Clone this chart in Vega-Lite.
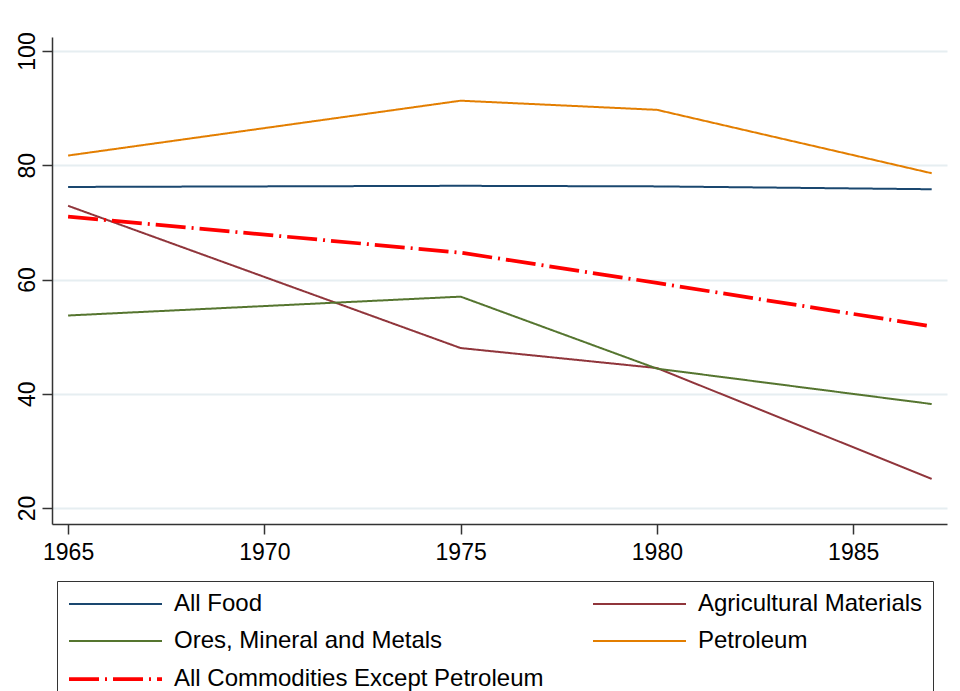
{
  "$schema": "https://vega.github.io/schema/vega-lite/v6.json",
  "autosize": "none",
  "width": 895,
  "height": 487,
  "padding": {"left": 52, "top": 37, "right": 13, "bottom": 167},
  "background": "white",
  "config": {
    "view": {"stroke": null},
    "font": "Liberation Sans"
  },
  "data": {
    "values": [
      {"year": 1965, "series": "All Food", "value": 76.2},
      {"year": 1975, "series": "All Food", "value": 76.4},
      {"year": 1980, "series": "All Food", "value": 76.3},
      {"year": 1987, "series": "All Food", "value": 75.8},
      {"year": 1965, "series": "Agricultural Materials", "value": 72.9},
      {"year": 1975, "series": "Agricultural Materials", "value": 48.0},
      {"year": 1980, "series": "Agricultural Materials", "value": 44.5},
      {"year": 1987, "series": "Agricultural Materials", "value": 25.1},
      {"year": 1965, "series": "Ores, Mineral and Metals", "value": 53.7},
      {"year": 1975, "series": "Ores, Mineral and Metals", "value": 57.0},
      {"year": 1980, "series": "Ores, Mineral and Metals", "value": 44.4},
      {"year": 1987, "series": "Ores, Mineral and Metals", "value": 38.2},
      {"year": 1965, "series": "Petroleum", "value": 81.7},
      {"year": 1975, "series": "Petroleum", "value": 91.3},
      {"year": 1980, "series": "Petroleum", "value": 89.7},
      {"year": 1987, "series": "Petroleum", "value": 78.6},
      {"year": 1965, "series": "All Commodities Except Petroleum", "value": 71.0},
      {"year": 1975, "series": "All Commodities Except Petroleum", "value": 64.7},
      {"year": 1980, "series": "All Commodities Except Petroleum", "value": 59.4},
      {"year": 1987, "series": "All Commodities Except Petroleum", "value": 51.8}
    ]
  },
  "mark": {"type": "line", "strokeCap": "butt", "strokeJoin": "miter"},
  "encoding": {
    "x": {
      "field": "year",
      "type": "quantitative",
      "scale": {"domain": [1964.59, 1987.39], "nice": false, "zero": false},
      "axis": {
        "title": null,
        "values": [1965, 1970, 1975, 1980, 1985],
        "format": "d",
        "grid": false,
        "domainColor": "#333333",
        "domainWidth": 1.5,
        "tickColor": "#333333",
        "tickWidth": 1.5,
        "tickSize": 10,
        "labelFontSize": 23,
        "labelColor": "#000000",
        "labelPadding": 7,
        "labelFont": "Liberation Sans"
      }
    },
    "y": {
      "field": "value",
      "type": "quantitative",
      "scale": {"domain": [17.2, 102.45], "nice": false, "zero": false},
      "axis": {
        "title": null,
        "values": [20, 40, 60, 80, 100],
        "grid": true,
        "gridColor": "#e6eef1",
        "gridWidth": 2,
        "domainColor": "#333333",
        "domainWidth": 1.5,
        "tickColor": "#333333",
        "tickWidth": 1.5,
        "tickSize": 10,
        "labelFontSize": 23,
        "labelColor": "#000000",
        "labelAngle": -90,
        "labelAlign": "center",
        "labelBaseline": "bottom",
        "labelPadding": 3,
        "labelFont": "Liberation Sans"
      }
    },
    "color": {
      "field": "series",
      "type": "nominal",
      "scale": {
        "domain": ["All Food", "Agricultural Materials", "Ores, Mineral and Metals", "Petroleum", "All Commodities Except Petroleum"],
        "range": ["#1a476f", "#90353b", "#55752f", "#e37e00", "#ff0000"]
      },
      "legend": {
        "title": null,
        "orient": "none",
        "legendX": 5,
        "legendY": 544,
        "columns": 2,
        "direction": "horizontal",
        "columnPadding": 45,
        "rowPadding": 12,
        "padding": 10,
        "strokeColor": "#333333",
        "fillColor": "#ffffff",
        "symbolType": "M-1,0H6.75",
        "symbolSize": 576,
        "labelFontSize": 24,
        "labelFont": "Liberation Sans",
        "labelColor": "#000000",
        "labelOffset": 79,
        "labelLimit": 600
      }
    },
    "strokeDash": {
      "field": "series",
      "type": "nominal",
      "scale": {
        "domain": ["All Food", "Agricultural Materials", "Ores, Mineral and Metals", "Petroleum", "All Commodities Except Petroleum"],
        "range": [[1, 0], [1, 0], [1, 0], [1, 0], [30, 6, 2, 6]]
      }
    },
    "strokeWidth": {
      "field": "series",
      "type": "ordinal",
      "scale": {
        "type": "ordinal",
        "domain": ["All Food", "Agricultural Materials", "Ores, Mineral and Metals", "Petroleum", "All Commodities Except Petroleum"],
        "range": [2, 2, 2, 2, 3.75]
      }
    }
  }
}
